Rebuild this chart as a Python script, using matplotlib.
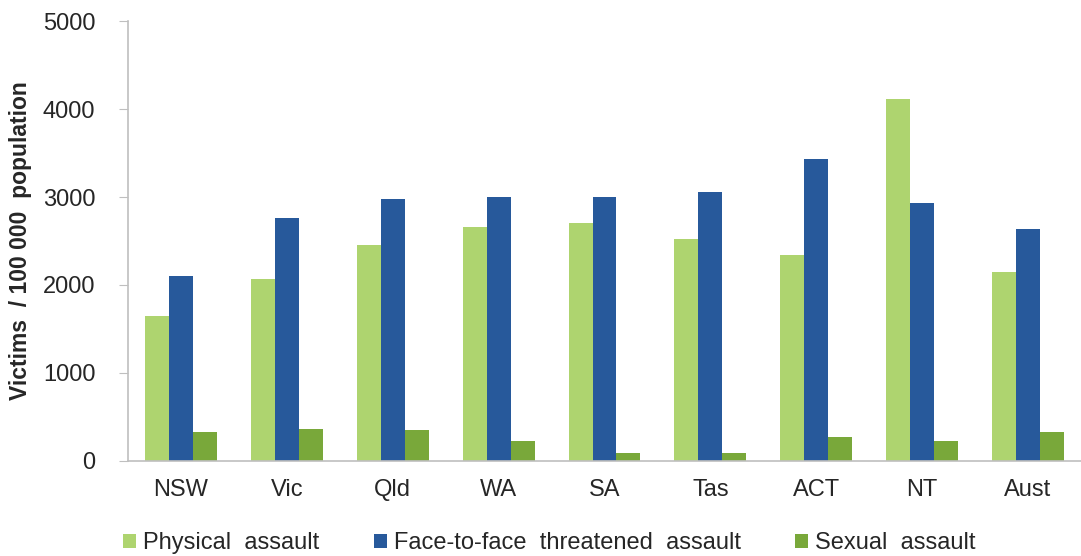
import numpy as np
import matplotlib.pyplot as plt
from matplotlib.patches import Patch

plt.rcParams['font.family'] = ['Liberation Sans', 'DejaVu Sans']

states = ['NSW', 'Vic', 'Qld', 'WA', 'SA', 'Tas', 'ACT', 'NT', 'Aust']
physical = [1650, 2068, 2451, 2655, 2708, 2523, 2345, 4110, 2144]
threatened = [2102, 2758, 2981, 3000, 3000, 3053, 3435, 2928, 2633]
sexual = [329, 367, 352, 224, 96, 96, 272, 224, 329]

series_names = ['Physical  assault', 'Face-to-face  threatened  assault', 'Sexual  assault']
colors = ['#AED46F', '#27599B', '#79A83A']

fig = plt.figure(figsize=(10.81, 5.56), dpi=100)
ax = fig.add_axes([0.1184, 0.1709, 0.8816, 0.7913])

x = np.arange(len(states))
w = 0.226
for i, (vals, c) in enumerate(zip([physical, threatened, sexual], colors)):
	ax.bar(x + (i - 1) * w, vals, width=w, color=c, linewidth=0)

ax.set_xlim(-0.5, len(states) - 0.5)
ax.set_ylim(0, 5000)
ax.set_yticks([0, 1000, 2000, 3000, 4000, 5000])
ax.set_xticks(x)
ax.set_xticklabels(states)

# axis styling
for s in ['top', 'right']:
	ax.spines[s].set_visible(False)
for s in ['left', 'bottom']:
	ax.spines[s].set_color('#BFBFBF')
	ax.spines[s].set_linewidth(1.2)
ax.tick_params(axis='y', length=6.5, color='#BFBFBF', pad=17, labelsize=17, labelcolor='#262626')
ax.tick_params(axis='x', length=0, pad=13, labelsize=17, labelcolor='#262626')

fig.text(0.019, 0.568, 'Victims  / 100 000  population', rotation=90, ha='center', va='center',
	fontsize=16.5, fontweight='bold', color='#262626')

# legend at bottom
handles = [Patch(facecolor=c, edgecolor='none') for c in colors]
fig.legend(handles, series_names, loc='center left', bbox_to_anchor=(0.114, 0.023), ncol=3,
	frameon=False, fontsize=17, handlelength=0.55, handleheight=0.55, handletextpad=0.3,
	columnspacing=2.3, labelcolor='#262626', borderaxespad=0, borderpad=0)

fig.savefig('out.png', dpi=100)
